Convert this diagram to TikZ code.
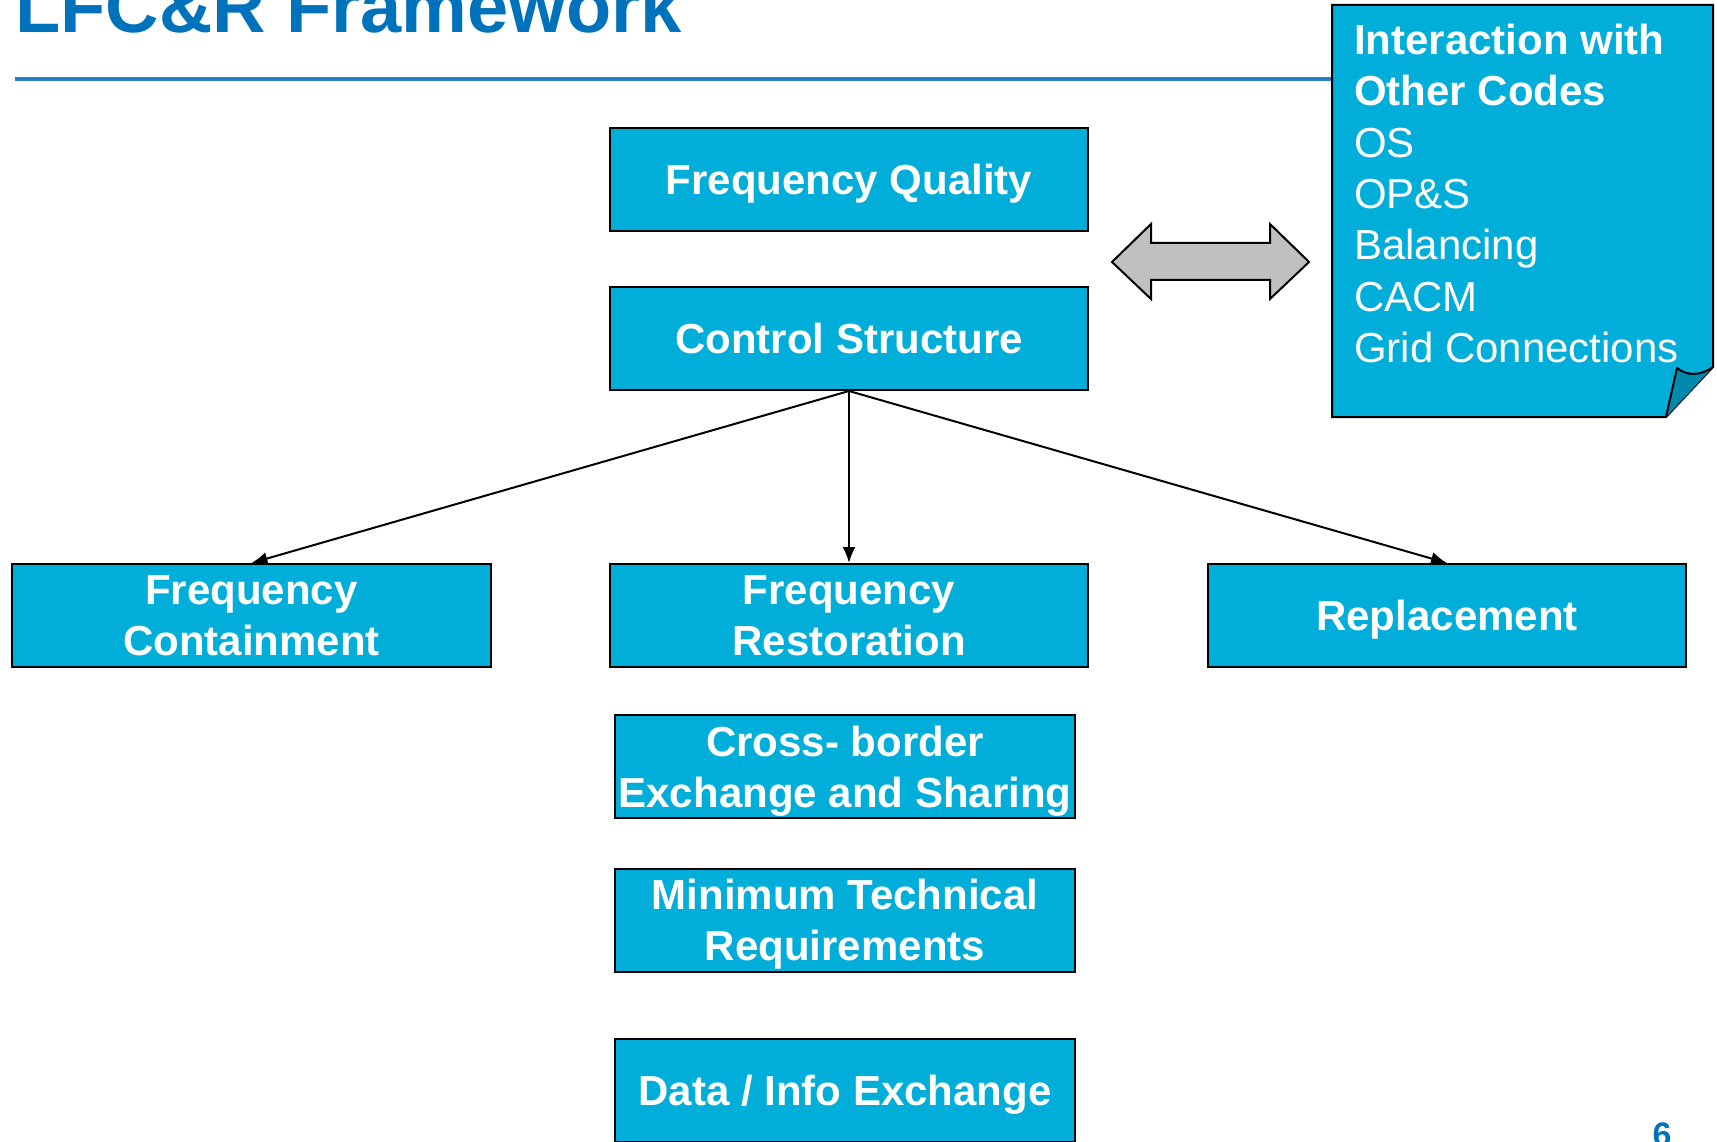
\documentclass[tikz,border=0pt]{standalone}
\usepackage{fontspec}
\setmainfont{Liberation Sans}
\usetikzlibrary{arrows.meta}
\definecolor{boxblue}{HTML}{00AED9}
\definecolor{folddark}{HTML}{0089AD}
\definecolor{titleblue}{HTML}{0072BC}
\definecolor{lineblue}{HTML}{2D7DC6}
\definecolor{arrowgray}{HTML}{C0C0C0}
\begin{document}
\begin{tikzpicture}[x=1pt,y=-1pt,
  box/.style={draw=black, line width=2pt, fill=boxblue, text=white,
    font=\bfseries\fontsize{42}{51}\selectfont, align=center, inner sep=0pt,
    text depth=0pt, minimum width=478pt, minimum height=103pt},
  narrowbox/.style={box, minimum width=460pt},
  conn/.style={line width=2pt, -{Latex[length=16pt,width=13pt]}},
  shapeline/.style={draw=black, line width=2pt}]
\useasboundingbox (0,0) rectangle (1717,1142);

% title
\node[anchor=base west, inner sep=0pt, text=titleblue,
  font=\bfseries\fontsize{74}{80}\selectfont] (title) at (15,33) {LFC\&R Framework};
\coordinate (rulestart) at (15,79);
\coordinate (ruleend) at (1332,79);
\draw[lineblue, line width=4pt] (rulestart) -- (ruleend);

% interaction note
\draw[shapeline, fill=boxblue] (1332,5) -- (1713,5) -- (1713,367) -- (1666,417) -- (1332,417) -- cycle;
\draw[shapeline, fill=folddark, line join=round] (1666,417) -- (1677,368) .. controls (1688,377) and (1702,375) .. (1713,367);
\node[anchor=north west, inner sep=0pt, text=white, align=left,
  font=\fontsize{42}{51.3}\selectfont] (codes) at (1354,24)
  {\textbf{Interaction with}\\\textbf{Other Codes}\\OS\\OP\&S\\Balancing\\CACM\\Grid Connections};

% double arrow
\draw[shapeline, fill=arrowgray, line join=miter] (1112,262) -- (1151,224) -- (1151,243) -- (1270,243) -- (1270,224) -- (1309,262) -- (1270,299) -- (1270,280) -- (1151,280) -- (1151,299) -- cycle;

% boxes
\node[box] (fq) at (849,179.5) {Frequency Quality};
\node[box] (cs) at (849,338.5) {Control Structure};
\node[box, minimum width=479pt] (fc) at (251.5,615.5) {Frequency\\Containment};
\node[box] (fr) at (849,615.5) {Frequency\\Restoration};
\node[box] (rep) at (1447,615.5) {Replacement};
\node[narrowbox] (cb) at (845,766.5) {Cross- border\\Exchange and Sharing};
\node[narrowbox] (mt) at (845,920) {Minimum Technical\\Requirements};
\node[narrowbox] (di) at (845,1090) {Data / Info Exchange};

% connectors
\draw[conn] (cs.south) -- (fc.north);
\draw[conn] (cs.south) -- (fr.north);
\draw[conn] (cs.south) -- (rep.north);

% page number
\node[anchor=base, inner sep=0pt, text=titleblue,
  font=\bfseries\fontsize{34}{40}\selectfont] (pg) at (1662,1146) {6};
\end{tikzpicture}
\end{document}
